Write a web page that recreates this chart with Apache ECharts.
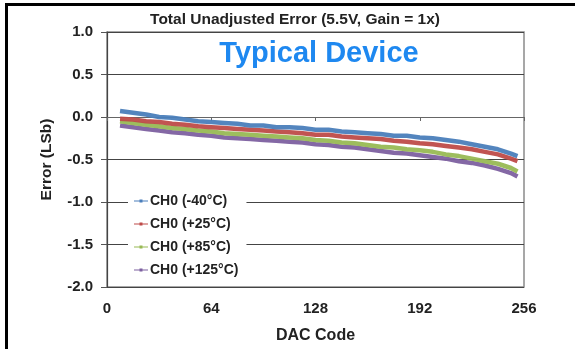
<!DOCTYPE html>
<html>
<head>
<meta charset="utf-8">
<script src="https://cdn.jsdelivr.net/npm/echarts@6/dist/echarts.min.js"></script>
<style>
html,body{margin:0;padding:0;background:#fff;}
#c{width:575px;height:349px;}
</style>
</head>
<body>
<div id="c"></div>
<script>
const codes = [8,16,24,32,40,48,56,64,72,80,88,96,104,112,120,128,136,144,152,160,168,176,184,192,200,208,216,224,232,240,248,252];
const ch0m40 = [0.07,0.05,0.03,0.00,-0.01,-0.03,-0.05,-0.06,-0.07,-0.08,-0.10,-0.10,-0.12,-0.12,-0.13,-0.15,-0.15,-0.17,-0.18,-0.19,-0.20,-0.22,-0.22,-0.24,-0.25,-0.27,-0.29,-0.32,-0.35,-0.38,-0.43,-0.46];
const ch0p25 = [-0.02,-0.03,-0.05,-0.06,-0.08,-0.09,-0.11,-0.12,-0.13,-0.14,-0.15,-0.16,-0.17,-0.18,-0.19,-0.21,-0.21,-0.23,-0.24,-0.25,-0.26,-0.28,-0.29,-0.31,-0.32,-0.34,-0.36,-0.38,-0.41,-0.44,-0.49,-0.52];
const ch0p85 = [-0.05,-0.07,-0.09,-0.11,-0.13,-0.14,-0.16,-0.17,-0.19,-0.20,-0.21,-0.22,-0.23,-0.24,-0.25,-0.27,-0.28,-0.30,-0.31,-0.33,-0.35,-0.36,-0.38,-0.39,-0.41,-0.44,-0.46,-0.49,-0.52,-0.55,-0.60,-0.64];
const ch0p125 = [-0.10,-0.12,-0.14,-0.16,-0.18,-0.19,-0.21,-0.22,-0.24,-0.25,-0.26,-0.27,-0.28,-0.29,-0.30,-0.32,-0.33,-0.35,-0.36,-0.38,-0.40,-0.42,-0.43,-0.45,-0.47,-0.49,-0.52,-0.54,-0.57,-0.61,-0.66,-0.70];
const seriesNames = ['CH0 (-40°C)','CH0 (+25°C)','CH0 (+85°C)','CH0 (+125°C)'];
const seriesData = [ch0m40, ch0p25, ch0p85, ch0p125];
const colors = ['#4A7EBB','#BE4B48','#98B954','#7D60A0'];
const xTicks = [0,64,128,192,256];

const font = 'Liberation Sans, Arial, sans-serif';
const chart = echarts.init(document.getElementById('c'), null, {renderer:'canvas'});
chart.setOption({
  animation:false,
  backgroundColor:'#fff',
  textStyle:{fontFamily:font},
  title:[
    {text:'Total Unadjusted Error (5.5V, Gain = 1x)', left:290, top:7, textAlign:'center',
     textStyle:{fontFamily:font,fontSize:15.5,fontWeight:'bold',color:'#222'}},
    {text:'Typical Device', left:314, top:34, textAlign:'center',
     textStyle:{fontFamily:font,fontSize:29,fontWeight:'bold',color:'#1E88F0'}}
  ],
  graphic:[
    {type:'line', shape:{x1:6.5,y1:4,x2:6.5,y2:349}, style:{stroke:'#000',lineWidth:3}},
    {type:'line', shape:{x1:5,y1:4.5,x2:575,y2:4.5}, style:{stroke:'#000',lineWidth:3}}
  ],
  grid:{left:107, top:32, right:51, bottom:57, show:true, borderColor:'#8a8a8a', borderWidth:1.5, backgroundColor:'transparent'},
  legend:{
    orient:'vertical', left:128, top:191, itemGap:9, itemWidth:14, itemHeight:6,
    backgroundColor:'#fff', padding:[3,8,3,6],
    icon:'path://M0,2.5L14,2.5L14,3.5L0,3.5Z M5.5,1.5L8.5,1.5L8.5,4.5L5.5,4.5Z',
    textStyle:{fontFamily:font,fontSize:14,fontWeight:'bold',color:'#222',padding:[0,0,0,-3]},
    data:seriesNames
  },
  xAxis:{
    type:'value', min:0, max:256, interval:64,
    name:'DAC Code', nameLocation:'middle', nameGap:41,
    nameTextStyle:{fontFamily:font,fontSize:16,fontWeight:'bold',color:'#222'},
    axisLine:{show:true,lineStyle:{color:'#666',width:1}},
    axisTick:{show:true,length:4,lineStyle:{color:'#666'}},
    axisLabel:{fontFamily:font,fontSize:15,fontWeight:'bold',color:'#222',margin:14,
      formatter:function(v){return xTicks.indexOf(v)>=0?String(v):'';}},
    splitLine:{show:false}
  },
  yAxis:{
    type:'value', min:-2, max:1, interval:0.5,
    name:'Error (LSb)', nameLocation:'middle', nameGap:52,
    nameTextStyle:{fontFamily:font,fontSize:15.5,fontWeight:'bold',color:'#222'},
    axisLine:{show:true,lineStyle:{color:'#444',width:1.2}},
    axisTick:{show:true,length:6,lineStyle:{color:'#555'}},
    axisLabel:{fontFamily:font,fontSize:15,fontWeight:'bold',color:'#222',margin:14,
      formatter:function(v){return v.toFixed(1);}},
    splitLine:{show:true,lineStyle:{color:'#444',width:1.2}}
  },
  series: seriesNames.map(function(n,i){
    return {
      name:n, type:'line', data:codes.map(function(c,j){return [c, seriesData[i][j]];}),
      showSymbol:false, symbol:'circle', symbolSize:4,
      lineStyle:{color:colors[i], width:4.5, opacity:0.95},
      itemStyle:{color:colors[i]},
      smooth:false, z:10-i
    };
  })
});
</script>
</body>
</html>
